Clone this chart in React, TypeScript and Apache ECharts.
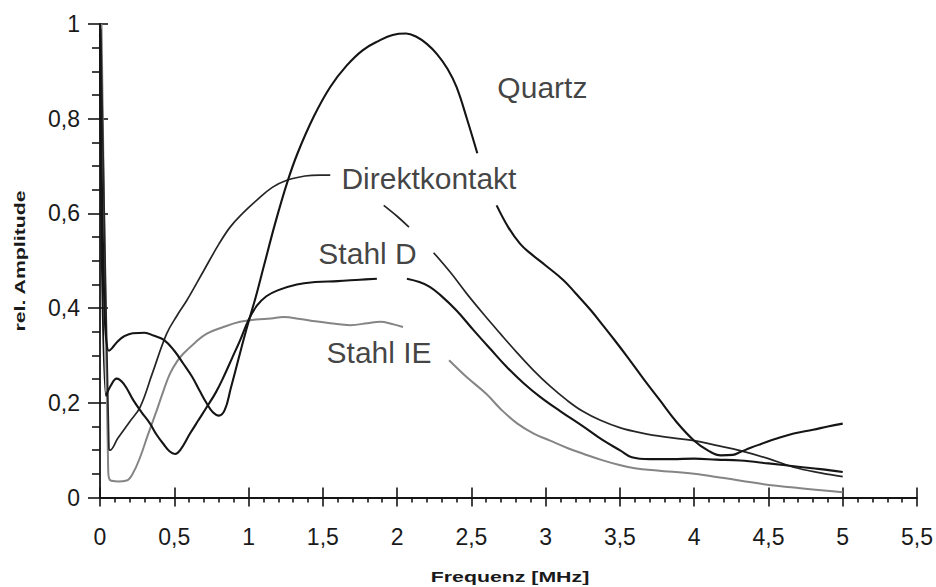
import React, { useEffect, useRef } from "react";
import * as echarts from "echarts";

const xTicks = { min: 0, max: 5.5, interval: 0.5 };
const yTicks = { min: 0, max: 1, interval: 0.2 };

const quartz: (number | null)[][] = [
  [0, 1.0], [0.03, 0.4], [0.06, 0.31], [0.08, 0.315], [0.12, 0.33], [0.16, 0.34],
  [0.22, 0.347], [0.3, 0.348], [0.36, 0.342], [0.43, 0.333], [0.5, 0.31], [0.56, 0.283],
  [0.62, 0.255], [0.67, 0.226], [0.72, 0.198], [0.76, 0.18], [0.8, 0.173], [0.84, 0.185],
  [0.88, 0.23], [0.93, 0.29], [0.99, 0.36], [1.05, 0.425], [1.1, 0.485], [1.18, 0.58],
  [1.26, 0.665], [1.33, 0.727], [1.44, 0.805], [1.55, 0.867], [1.66, 0.912], [1.77, 0.945],
  [1.88, 0.965], [1.97, 0.977], [2.06, 0.98], [2.13, 0.973], [2.2, 0.958], [2.27, 0.936],
  [2.34, 0.905], [2.4, 0.867], [2.47, 0.8], [2.54, 0.727], [2.6, null], [2.67, 0.617],
  [2.75, 0.57], [2.83, 0.535], [2.9, 0.515], [3.0, 0.49], [3.12, 0.459], [3.2, 0.432],
  [3.3, 0.397], [3.39, 0.362], [3.47, 0.33], [3.55, 0.297], [3.66, 0.25], [3.77, 0.205],
  [3.88, 0.16], [4.0, 0.12], [4.1, 0.098], [4.18, 0.089], [4.26, 0.09], [4.31, 0.096],
  [4.38, 0.105], [4.45, 0.113], [4.55, 0.124], [4.67, 0.135], [4.8, 0.143], [4.9, 0.15],
  [5.0, 0.156],
];

const direktkontakt: (number | null)[][] = [
  [0.005, 0.99], [0.06, 0.105], [0.067, 0.1], [0.12, 0.125], [0.2, 0.16], [0.27, 0.191],
  [0.35, 0.26], [0.449, 0.346], [0.52, 0.385], [0.584, 0.416], [0.7, 0.48], [0.8, 0.535],
  [0.876, 0.571], [0.96, 0.6], [1.056, 0.628], [1.16, 0.655], [1.258, 0.67], [1.38, 0.679],
  [1.48, 0.681], [1.55, 0.681], [1.7, null], [1.91, 0.617], [2.0, 0.594], [2.08, 0.571],
  [2.15, null], [2.246, 0.517], [2.36, 0.475], [2.47, 0.43], [2.58, 0.388], [2.695, 0.346],
  [2.81, 0.305], [2.92, 0.268], [3.03, 0.235], [3.145, 0.205], [3.25, 0.182], [3.369, 0.163],
  [3.504, 0.147], [3.65, 0.136], [3.8, 0.128], [4.0, 0.12], [4.15, 0.11], [4.31, 0.099],
  [4.5, 0.082], [4.67, 0.064], [4.85, 0.052], [5.0, 0.044],
];

const stahlD: (number | null)[][] = [
  [0, 0.98], [0.04, 0.215], [0.07, 0.235], [0.112, 0.251], [0.16, 0.24], [0.225, 0.205],
  [0.28, 0.18], [0.337, 0.156], [0.38, 0.133], [0.427, 0.113], [0.47, 0.097], [0.505, 0.092],
  [0.54, 0.1], [0.606, 0.135], [0.66, 0.162], [0.719, 0.191], [0.78, 0.222], [0.831, 0.254],
  [0.89, 0.295], [0.943, 0.332], [1.0, 0.375], [1.056, 0.405], [1.12, 0.425], [1.2, 0.438],
  [1.325, 0.45], [1.45, 0.455], [1.6, 0.457], [1.75, 0.46], [1.864, 0.462], [1.95, null],
  [2.066, 0.462], [2.15, 0.455], [2.22, 0.445], [2.29, 0.428], [2.4, 0.395], [2.516, 0.353],
  [2.63, 0.313], [2.74, 0.275], [2.85, 0.242], [2.965, 0.212], [3.1, 0.182], [3.257, 0.149],
  [3.38, 0.122], [3.504, 0.099], [3.58, 0.085], [3.7, 0.081], [3.85, 0.081], [4.0, 0.082],
  [4.15, 0.08], [4.31, 0.078], [4.5, 0.072], [4.7, 0.065], [4.85, 0.06], [5.0, 0.054],
];

const stahlIE: (number | null)[][] = [
  [0.01, 1.0], [0.055, 0.06], [0.07, 0.036], [0.12, 0.034], [0.18, 0.036], [0.22, 0.05],
  [0.27, 0.085], [0.32, 0.13], [0.382, 0.184], [0.43, 0.228], [0.472, 0.262], [0.52, 0.288],
  [0.562, 0.304], [0.64, 0.327], [0.719, 0.346], [0.83, 0.36], [0.943, 0.371], [1.05, 0.376],
  [1.15, 0.378], [1.235, 0.381], [1.348, 0.377], [1.45, 0.372], [1.55, 0.368], [1.685, 0.364],
  [1.8, 0.368], [1.887, 0.371], [1.96, 0.367], [2.04, 0.36], [2.2, null], [2.35, 0.29],
  [2.47, 0.254], [2.6, 0.219], [2.7, 0.186], [2.81, 0.156], [2.92, 0.135], [3.03, 0.12],
  [3.15, 0.104], [3.257, 0.092], [3.38, 0.079], [3.504, 0.068], [3.6, 0.062], [3.75, 0.057],
  [4.0, 0.05], [4.2, 0.041], [4.45, 0.029], [4.7, 0.02], [5.0, 0.011],
];

const curveLabels: (number | string)[][] = [
  [2.675, 0.866, "Quartz"],
  [1.625, 0.674, "Direktkontakt"],
  [1.47, 0.515, "Stahl D"],
  [1.525, 0.306, "Stahl IE"],
];

const xTitle = "Frequenz [MHz]";
const yTitle = "rel. Amplitude";

const FONT = '"Liberation Sans", Arial, Helvetica, sans-serif';
const INK = "#151515";

export default function App() {
  const ref = useRef<HTMLDivElement>(null);

  useEffect(() => {
    if (!ref.current) return;
    const chart = echarts.init(ref.current, null, { renderer: "svg" });
    const fmt = (v: number) => String(+v.toFixed(2)).replace(".", ",");
    const tickStyle = { color: INK, width: 1.6 };
    const curve = (name: string, data: any, color: string, width: number) => ({
      name,
      type: "line",
      data,
      showSymbol: false,
      smooth: 0.4,
      connectNulls: false,
      lineStyle: { color, width },
    });

    const option: any = {
      animation: false,
      backgroundColor: "#ffffff",
      grid: { left: 100, right: 19, top: 24, bottom: 89.5, containLabel: false },
      xAxis: [
        {
          type: "value",
          ...xTicks,
          position: "bottom",
          axisLine: { show: true, onZero: false, lineStyle: { color: INK, width: 1.8 } },
          axisTick: { show: true, inside: false, length: 9, lineStyle: tickStyle },
          minorTick: { show: true, splitNumber: 5, length: 5, lineStyle: tickStyle },
          axisLabel: { margin: 28, fontSize: 23, fontFamily: FONT, color: "#1a1a1a", formatter: fmt },
          splitLine: { show: false },
          minorSplitLine: { show: false },
        },
        {
          type: "value",
          ...xTicks,
          position: "bottom",
          axisLine: { show: false, onZero: false },
          axisTick: { show: true, inside: true, length: 10, lineStyle: tickStyle },
          axisLabel: { show: false },
          splitLine: { show: false },
        },
      ],
      yAxis: [
        {
          type: "value",
          ...yTicks,
          position: "left",
          axisLine: { show: true, onZero: false, lineStyle: { color: INK, width: 1.8 } },
          axisTick: { show: true, inside: false, length: 12, lineStyle: tickStyle },
          minorTick: { show: true, splitNumber: 4, length: 8, lineStyle: tickStyle },
          axisLabel: { margin: 20, fontSize: 23, fontFamily: FONT, color: "#1a1a1a", formatter: fmt },
          splitLine: { show: false },
          minorSplitLine: { show: false },
        },
        {
          type: "value",
          ...yTicks,
          position: "left",
          axisLine: { show: false, onZero: false },
          axisTick: { show: true, inside: true, length: 8, lineStyle: tickStyle },
          axisLabel: { show: false },
          splitLine: { show: false },
        },
      ],
      series: [
        curve("Stahl IE", stahlIE, "#858585", 2),
        curve("Direktkontakt", direktkontakt, "#262626", 1.7),
        curve("Stahl D", stahlD, INK, 2.1),
        curve("Quartz", quartz, INK, 2.1),
        {
          name: "labels",
          type: "scatter",
          data: curveLabels,
          symbolSize: 0,
          silent: true,
          label: {
            show: true,
            position: "right",
            distance: 0,
            formatter: (p: any) => p.value[2],
            fontSize: 30,
            fontFamily: FONT,
            color: "#111111",
          },
        },
      ],
      graphic: [
        {
          type: "text",
          x: 510,
          y: 577,
          scaleX: 1.42,
          style: {
            text: xTitle,
            font: `bold 15px ${FONT}`,
            fill: "#1a1a1a",
            align: "center",
            verticalAlign: "middle",
          },
        },
        {
          type: "text",
          x: 20,
          y: 261,
          rotation: Math.PI / 2,
          scaleX: 1.42,
          style: {
            text: yTitle,
            font: `bold 15px ${FONT}`,
            fill: "#1a1a1a",
            align: "center",
            verticalAlign: "middle",
          },
        },
      ],
    };

    chart.setOption(option);
    return () => chart.dispose();
  }, []);

  return (
    <div
      ref={ref}
      style={{ position: "absolute", left: 0, top: 0, width: 936, height: 587, background: "#fff" }}
    />
  );
}
